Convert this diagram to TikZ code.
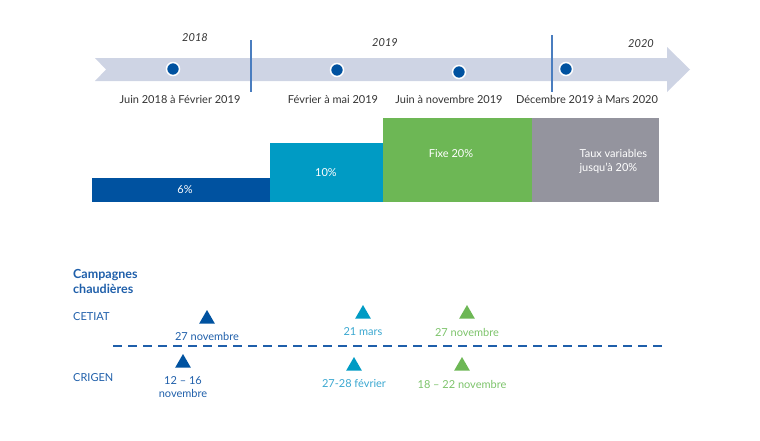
\documentclass[tikz,border=0pt]{standalone}
\usepackage{fontspec}
\setmainfont{Lato}
\usetikzlibrary{shapes.geometric}
\definecolor{band}{HTML}{CED4E4}
\definecolor{dkblue}{HTML}{0052A0}
\definecolor{cyanb}{HTML}{009BC4}
\definecolor{greenb}{HTML}{6DB755}
\definecolor{grayb}{HTML}{94949E}
\definecolor{sepline}{HTML}{4A7DBF}
\definecolor{titleblue}{HTML}{1F5FAA}
\definecolor{cyantxt}{HTML}{3AA7D0}
\definecolor{greentxt}{HTML}{7CC36A}
\definecolor{txt}{HTML}{333333}
\tikzset{
  dot/.style={circle,fill=dkblue,draw=white,line width=1.5pt,minimum size=13pt,inner sep=0pt},
  year/.style={font=\fontsize{11}{13}\selectfont\itshape,text=txt},
  period/.style={font=\fontsize{11}{13}\selectfont,text=txt},
  bartxt/.style={font=\fontsize{11}{14}\selectfont,text=white},
  tri/.style={regular polygon,regular polygon sides=3,minimum size=18pt,inner sep=0pt},
  lbl/.style={font=\fontsize{11}{13}\selectfont,align=center},
  sep/.style={draw=sepline,line width=1.2pt}
}
\begin{document}
\begin{tikzpicture}[x=1pt,y=-1pt]
\useasboundingbox (0,0) rectangle (760,440);
% timeline band
\fill[band] (95,58) -- (667,58) -- (667,47) -- (690,69.5) -- (667,92) -- (667,81) -- (95,81) -- (106,69.5) -- cycle;
% separators
\coordinate (s1t) at (251,40); \coordinate (s1b) at (251,92);
\coordinate (s2t) at (552,35); \coordinate (s2b) at (552,92);
\draw[sep] (s1t) -- (s1b);
\draw[sep] (s2t) -- (s2b);
% years
\node[year] (y18) at (195,38) {2018};
\node[year] (y19) at (385,43) {2019};
\node[year] (y20) at (641,44) {2020};
% dots
\node[dot] (d1) at (173,69) {};
\node[dot] (d2) at (337,70) {};
\node[dot] (d3) at (459,72) {};
\node[dot] (d4) at (566,69) {};
% period labels
\node[period] (p1) at (180,100) {Juin 2018 à Février 2019};
\node[period] (p2) at (333,100) {Février à mai 2019};
\node[period] (p3) at (449,99) {Juin à novembre 2019};
\node[period] (p4) at (587,99) {Décembre 2019 à Mars 2020};
% bars
\fill[dkblue] (92,178) rectangle (270,202);
\fill[cyanb] (270,143) rectangle (383,202);
\fill[greenb] (383,118) rectangle (532,202);
\fill[grayb] (532,118) rectangle (659,202);
\node[bartxt] (b1) at (185,190) {6\%};
\node[bartxt] (b2) at (326,173) {10\%};
\node[bartxt] (b3) at (451,154) {Fixe 20\%};
\node[bartxt,align=left,anchor=west] (b4) at (576,161) {Taux variables\\jusqu’à 20\%};
% campaigns
\node[font=\fontsize{12.5}{15.5}\selectfont\bfseries,text=titleblue,align=left,anchor=north west,inner sep=0pt] (camp) at (73,269) {Campagnes\\chaudières};
\node[font=\fontsize{11}{13}\selectfont,text=titleblue,anchor=west,inner sep=0pt] (cet) at (73,317) {CETIAT};
\node[font=\fontsize{11}{13}\selectfont,text=titleblue,anchor=west,inner sep=0pt] (cri) at (73,378) {CRIGEN};
% dashed line
\coordinate (dl) at (113,346); \coordinate (dr) at (667,346);
\draw[titleblue,line width=1.8pt,dash pattern=on 9pt off 6pt] (dl) -- (dr);
% CETIAT markers
\node[tri,fill=dkblue] (t1) at (207,319) {};
\node[lbl,text=titleblue] (l1) at (207,336) {27 novembre};
\node[tri,fill=cyanb] (t2) at (363,314) {};
\node[lbl,text=cyantxt] (l2) at (363,332) {21 mars};
\node[tri,fill=greenb] (t3) at (467,314) {};
\node[lbl,text=greentxt] (l3) at (467,332) {27 novembre};
% CRIGEN markers
\node[tri,fill=dkblue] (t4) at (183,363) {};
\node[lbl,text=titleblue] (l4) at (183,387) {12 – 16\\novembre};
\node[tri,fill=cyanb] (t5) at (354,366) {};
\node[lbl,text=cyantxt] (l5) at (354,384) {27-28 février};
\node[tri,fill=greenb] (t6) at (462,366) {};
\node[lbl,text=greentxt] (l6) at (462,384) {18 – 22 novembre};
\end{tikzpicture}
\end{document}
